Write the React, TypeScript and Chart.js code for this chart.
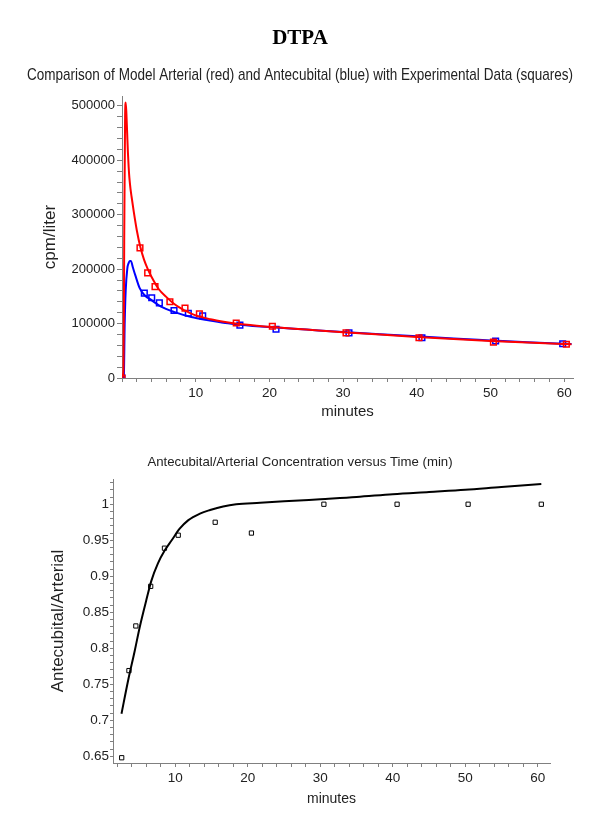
import { useEffect, useRef } from "react";
import { Chart, registerables } from "chart.js";

Chart.register(...registerables);

// ---------- Top chart data (minutes, cpm/liter) ----------
const RED_MODEL_T = [0, 0.2, 0.3, 0.42, 0.5, 0.6, 0.7, 0.8, 0.9, 1.0, 1.15, 1.3, 1.6, 2.0, 2.5, 3.0, 3.5, 4.0, 5.0, 6.0, 7.0, 8.0, 9.0, 10.0, 12.0, 14.0, 16.0, 20.0, 25.0, 30.0, 35.0, 40.0, 45.0, 50.0, 55.0, 61.0];
const RED_MODEL_Y = [0, 15000, 250000, 480000, 506000, 485000, 450000, 415000, 388000, 368000, 348000, 333000, 305000, 272000, 240000, 217000, 200000, 186000, 163000, 149000, 137000, 128000, 121000, 115000, 108000, 103000, 99000, 94000, 89000, 84000, 80000, 75500, 71500, 68000, 65000, 62000];

const BLUE_MODEL_T = [0, 0.25, 0.36, 0.5, 0.72, 0.9, 1.05, 1.2, 1.5, 1.8, 2.4, 3.0, 4.0, 5.3, 7.15, 9.4, 11.7, 14.0, 16.0, 20.0, 25.0, 30.0, 35.0, 40.0, 45.0, 50.0, 55.0, 61.0];
const BLUE_MODEL_Y = [0, 3000, 97000, 160000, 201000, 211000, 215000, 215000, 202000, 189000, 165000, 153000, 143000, 131000, 121000, 112000, 106000, 101000, 98000, 93500, 89000, 84500, 80500, 76500, 72500, 69000, 65500, 62500];

const RED_DATA_T = [0, 2.44, 3.48, 4.48, 6.5, 8.55, 10.5, 15.5, 20.4, 30.4, 40.3, 50.4, 60.3];
const RED_DATA_Y = [0, 239000, 193000, 168000, 140000, 128500, 118000, 101000, 95000, 83000, 74000, 66000, 62000];

const BLUE_DATA_T = [0, 3.03, 4.03, 5.07, 7.06, 9.0, 10.95, 16.0, 20.9, 30.8, 40.7, 50.7, 59.8];
const BLUE_DATA_Y = [0, 156000, 147500, 138000, 124000, 119000, 114000, 97000, 89600, 83000, 74000, 68000, 63000];

// ---------- Bottom chart data (minutes, ratio) ----------
const RATIO_MODEL_T = [2.57, 3.5, 4.41, 5.1, 6.0, 6.7, 7.6, 8.55, 9.5, 10.6, 11.8, 13.4, 14.8, 16.6, 18.4, 21.7, 25.0, 30.0, 35.0, 40.0, 45.0, 50.0, 55.0, 60.5];
const RATIO_MODEL_Y = [0.709, 0.756, 0.797, 0.83, 0.867, 0.894, 0.918, 0.936, 0.95, 0.966, 0.978, 0.987, 0.992, 0.997, 1.0, 1.002, 1.004, 1.007, 1.01, 1.014, 1.017, 1.02, 1.024, 1.028];

const RATIO_DATA_T = [2.6, 3.6, 4.55, 6.6, 8.5, 10.4, 15.5, 20.5, 30.5, 40.6, 50.4, 60.5];
const RATIO_DATA_Y = [0.648, 0.769, 0.831, 0.886, 0.939, 0.957, 0.975, 0.96, 1.0, 1.0, 1.0, 1.0];

// ---------- Tick labels ----------
const X_TICK_LABELS = [10, 20, 30, 40, 50, 60];
const Y1_TICK_LABELS = [0, 100000, 200000, 300000, 400000, 500000];
const Y2_TICK_LABELS = ["0.65", "0.7", "0.75", "0.8", "0.85", "0.9", "0.95", "1"];

const TITLE = "DTPA";
const SUBTITLE = "Comparison of Model Arterial (red) and Antecubital (blue) with Experimental Data (squares)";
const TITLE2 = "Antecubital/Arterial Concentration versus Time (min)";

const SANS = '"Liberation Sans", Arial, sans-serif';
const AXIS = "#808080";
const TEXT = "#222";

const pts = (t: number[], y: number[]) => t.map((v, i) => ({ x: v, y: y[i] }));

function range(start: number, end: number, step: number) {
  const out: number[] = [];
  for (let v = start; v <= end + step / 1000; v += step) out.push(Math.round(v * 1000) / 1000);
  return out;
}

function TopChart() {
  const ref = useRef<HTMLCanvasElement | null>(null);
  useEffect(() => {
    const ctx = ref.current!;
    const xTicks = range(0, 60, 2);
    const yTicks = range(0, 500000, 20000);
    const chart = new Chart(ctx, {
      type: "scatter",
      data: {
        datasets: [
          { data: pts(RED_MODEL_T, RED_MODEL_Y), showLine: true, borderColor: "#ff0000", borderWidth: 2, pointRadius: 0, cubicInterpolationMode: "monotone" },
          { data: pts(RED_DATA_T, RED_DATA_Y), showLine: false, borderColor: "#ff0000", backgroundColor: "rgba(0,0,0,0)", pointStyle: "rect", pointRadius: 4, borderWidth: 1.5 },
          { data: pts(BLUE_DATA_T, BLUE_DATA_Y), showLine: false, borderColor: "#0000ff", backgroundColor: "rgba(0,0,0,0)", pointStyle: "rect", pointRadius: 4, borderWidth: 1.5 },
          { data: pts(BLUE_MODEL_T, BLUE_MODEL_Y), showLine: true, borderColor: "#0000ff", borderWidth: 2, pointRadius: 0, cubicInterpolationMode: "monotone" },
        ],
      } as any,
      options: {
        responsive: false,
        animation: false,
        devicePixelRatio: 1,
        layout: { padding: { left: 27, right: 27, top: 0, bottom: 0 } },
        plugins: {
          legend: { display: false },
          tooltip: { enabled: false },
          title: { display: true, text: TITLE, color: "#000", font: { family: '"Liberation Serif", "Times New Roman", serif', size: 21, weight: "bold" }, padding: { top: 26.4, bottom: 0 } },
          subtitle: { display: true, text: SUBTITLE, color: TEXT, font: { family: SANS, size: 15.7 }, padding: { top: 15, bottom: 10.6 } },
        },
        scales: {
          x: {
            type: "linear",
            min: 0,
            max: 61.2,
            afterBuildTicks: (s: any) => { s.ticks = xTicks.map((v) => ({ value: v })); },
            afterFit: (s: any) => { s.height = 52; },
            ticks: { autoSkip: false, maxRotation: 0, padding: 3, color: TEXT, font: { family: SANS, size: 13.5 }, callback: (v: any) => (X_TICK_LABELS.includes(v) ? String(v) : "") },
            grid: { drawOnChartArea: false, tickLength: 4, color: AXIS },
            border: { color: AXIS, width: 1 },
            title: { display: true, text: "minutes", color: TEXT, font: { family: SANS, size: 15 }, padding: { top: 0, bottom: 9.5 } },
          },
          y: {
            type: "linear",
            min: 0,
            max: 518000,
            afterBuildTicks: (s: any) => { s.ticks = yTicks.map((v) => ({ value: v })); },
            afterFit: (s: any) => { s.width = 95; },
            ticks: { autoSkip: false, padding: 2, color: TEXT, font: { family: SANS, size: 13 }, callback: (v: any) => (Y1_TICK_LABELS.includes(v) ? String(v) : "") },
            grid: { drawOnChartArea: false, tickLength: 5, color: AXIS },
            border: { color: AXIS, width: 1 },
            title: { display: true, text: "cpm/liter", color: TEXT, font: { family: SANS, size: 17 }, padding: { top: 12.8, bottom: 0 } },
          },
        },
      } as any,
    });
    return () => chart.destroy();
  }, []);
  return <canvas ref={ref} width={600} height={430} style={{ display: "block", width: 600, height: 430 }} />;
}

function BottomChart() {
  const ref = useRef<HTMLCanvasElement | null>(null);
  useEffect(() => {
    const ctx = ref.current!;
    const xTicks = range(2, 60, 2);
    const yTicks = range(0.65, 1.03, 0.01);
    const chart = new Chart(ctx, {
      type: "scatter",
      data: {
        datasets: [
          { data: pts(RATIO_MODEL_T, RATIO_MODEL_Y), showLine: true, borderColor: "#000", borderWidth: 2, pointRadius: 0, cubicInterpolationMode: "monotone" },
          { data: pts(RATIO_DATA_T, RATIO_DATA_Y), showLine: false, borderColor: "#000", backgroundColor: "rgba(0,0,0,0)", pointStyle: "rect", pointRadius: 3, borderWidth: 1 },
        ],
      } as any,
      options: {
        responsive: false,
        animation: false,
        devicePixelRatio: 1,
        layout: { padding: { left: 50, right: 50, top: 0, bottom: 0 } },
        plugins: {
          legend: { display: false },
          tooltip: { enabled: false },
          title: { display: true, text: TITLE2, color: TEXT, font: { family: SANS, size: 13.2, weight: "normal" }, padding: { top: 24, bottom: 9.2 } },
        },
        scales: {
          x: {
            type: "linear",
            min: 1.4,
            max: 61.7,
            afterBuildTicks: (s: any) => { s.ticks = xTicks.map((v) => ({ value: v })); },
            afterFit: (s: any) => { s.height = 66; },
            ticks: { autoSkip: false, maxRotation: 0, padding: 3, color: TEXT, font: { family: SANS, size: 13.5 }, callback: (v: any) => (X_TICK_LABELS.includes(v) ? String(v) : "") },
            grid: { drawOnChartArea: false, tickLength: 4, color: AXIS },
            border: { color: AXIS, width: 1 },
            title: { display: true, text: "minutes", color: TEXT, font: { family: SANS, size: 14 }, padding: { top: 0, bottom: 21 } },
          },
          y: {
            type: "linear",
            min: 0.6407,
            max: 1.035,
            afterBuildTicks: (s: any) => { s.ticks = yTicks.map((v) => ({ value: v })); },
            afterFit: (s: any) => { s.width = 63; },
            ticks: { autoSkip: false, padding: 1, color: TEXT, font: { family: SANS, size: 13.5 }, callback: (v: any) => { const l = String(v); return Y2_TICK_LABELS.includes(l) ? l : ""; } },
            grid: { drawOnChartArea: false, tickLength: 3, color: AXIS },
            border: { color: AXIS, width: 1 },
            title: { display: true, text: "Antecubital/Arterial", color: TEXT, font: { family: SANS, size: 17, lineHeight: 1 }, padding: { top: 0, bottom: 0 } },
          },
        },
      } as any,
    });
    return () => chart.destroy();
  }, []);
  return <canvas ref={ref} width={600} height={399} style={{ display: "block", width: 600, height: 399 }} />;
}

export default function App() {
  return (
    <div style={{ position: "absolute", left: 0, top: 0, width: 600, height: 829, background: "#fff" }}>
      <TopChart />
      <BottomChart />
    </div>
  );
}
